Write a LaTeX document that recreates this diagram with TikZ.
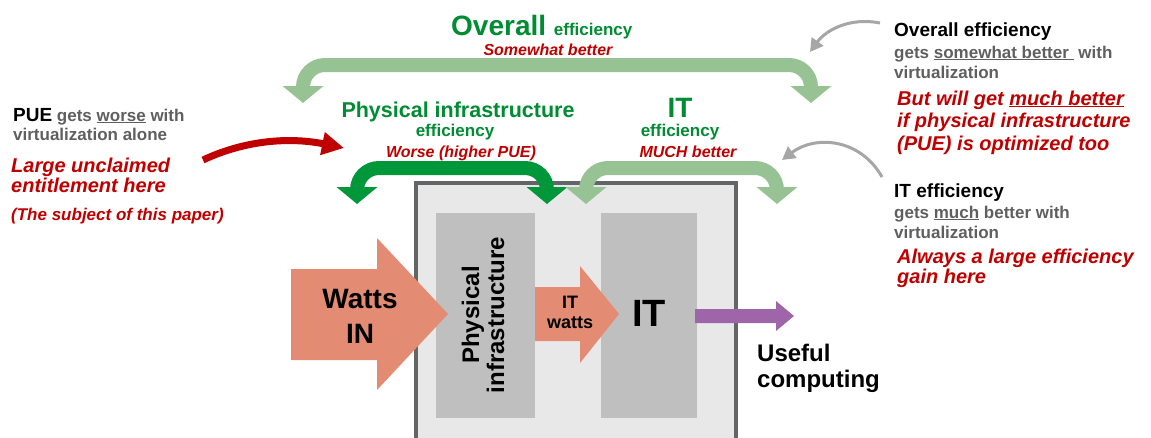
\documentclass[tikz,border=0pt]{standalone}
\usepackage{fontspec}
\setmainfont{Liberation Sans}
\usetikzlibrary{arrows.meta}

\definecolor{lightgreen}{RGB}{151,195,148}
\definecolor{darkgreen}{RGB}{0,150,58}
\definecolor{textgreen}{RGB}{0,140,50}
\definecolor{darkred}{RGB}{192,0,0}
\definecolor{textgray}{RGB}{95,95,95}
\definecolor{salmon}{RGB}{227,140,115}
\definecolor{violet}{RGB}{158,102,168}
\definecolor{boxfill}{RGB}{232,232,232}
\definecolor{boxedge}{RGB}{100,101,105}
\definecolor{blockfill}{RGB}{191,191,191}
\definecolor{pointer}{RGB}{166,166,166}

\newcommand{\fsz}[2]{\fontsize{#1}{#2}\selectfont}

\tikzset{
  effarrow/.style={line width=14pt, rounded corners=22pt,
    {Triangle[width=40pt,length=17pt]}-{Triangle[width=40pt,length=17pt]}},
  pointarrow/.style={line width=3pt, pointer, -{Triangle[width=14pt,length=13pt]}},
  heading/.style={anchor=base west, inner sep=0, font=\fsz{19}{22}\bfseries},
  graytext/.style={anchor=base west, inner sep=0, align=left, text=textgray, font=\fsz{17}{20}\bfseries},
  rednote/.style={anchor=base west, inner sep=0, align=left, text=darkred, font=\fsz{20}{22.5}\bfseries\itshape},
  efflabel/.style={anchor=base, inner sep=0, text=textgreen, font=\fsz{17}{20}\bfseries},
  redlabel/.style={anchor=base, inner sep=0, text=darkred, font=\fsz{16}{19}\bfseries\itshape},
  blocktext/.style={inner sep=0, align=center, font=\bfseries},
}

\begin{document}
\begin{tikzpicture}[x=1pt, y=-1pt]
    \useasboundingbox (0,0) rectangle (1151,437);

    % data center box
    \draw[boxedge, line width=4pt, fill=boxfill] (416,183) rectangle (736,450);
    \fill[blockfill] (436,213) rectangle (535,418);
    \fill[blockfill] (601,213) rectangle (697,418);

    % power flow
    \fill[salmon] (291,269) -- (377,269) -- (377,238) -- (448,314) -- (377,390) -- (377,360) -- (291,360) -- cycle;
    \fill[salmon] (535,287) -- (580,287) -- (580,266) -- (619,314) -- (580,363) -- (580,341) -- (535,341) -- cycle;
    \fill[violet] (695,309) -- (776,309) -- (776,301) -- (794,316) -- (776,331) -- (776,323) -- (695,323) -- cycle;

    \node[blocktext, font=\fsz{28}{35}\bfseries] (wattsin) at (360,316) {Watts\\IN};
    \node[blocktext, font=\fsz{24}{25}\bfseries, rotate=90] (physblock) at (483,315) {Physical\\infrastructure};
    \node[blocktext, font=\fsz{18}{20}\bfseries] (itwatts) at (570,312) {IT\\watts};
    \node[blocktext, font=\fsz{38}{40}\bfseries] (itblock) at (649,313) {IT};
    \node[anchor=base west, inner sep=0, align=left, font=\fsz{24}{26}\bfseries] (useful) at (757,387) {Useful\\computing};

    % efficiency arrows
    \coordinate (ovleft) at (303,103);
    \coordinate (ovright) at (811,103);
    \coordinate (phleft) at (357,204);
    \coordinate (phright) at (547,204);
    \coordinate (itleft) at (586,204);
    \coordinate (itright) at (777,204);
    \draw[effarrow, lightgreen] (ovleft) |- (556,65) -| (ovright);
    \draw[effarrow, darkgreen] (phleft) |- (452,168) -| (phright);
    \draw[effarrow, lightgreen] (itleft) |- (681,168) -| (itright);

    \node[anchor=base west, inner sep=0, text=textgreen] (ovtitle) at (451,35)
        {\fsz{28}{30}\bfseries Overall \fsz{17}{20}efficiency};
    \node[redlabel] (ovbetter) at (548,55) {Somewhat better};
    \node[efflabel, font=\fsz{21.5}{24}\bfseries] (phtitle) at (458,117) {Physical infrastructure};
    \node[efflabel] (pheff) at (455,136) {efficiency};
    \node[redlabel] (phworse) at (461,157) {Worse (higher PUE)};
    \node[efflabel, font=\fsz{28}{30}\bfseries] (ittitle) at (680,117) {IT};
    \node[efflabel] (iteff) at (680,136) {efficiency};
    \node[redlabel] (itbetter) at (688,157) {MUCH better};

    % left notes (base = last line)
    \node[graytext, font=\fsz{17}{19}\bfseries] (puegets) at (13,140)
        {{\fsz{19}{19}\color{black}PUE} gets \underline{worse} with\\virtualization alone};
    \node[rednote, font=\fsz{20}{20}\bfseries\itshape] (puenote) at (11,192) {Large unclaimed\\entitlement here};
    \node[rednote, font=\fsz{17}{20}\bfseries\itshape] (subject) at (11,220) {(The subject of this paper)};

    \coordinate (redtail) at (203,160);
    \coordinate (redtip) at (344,148);
    \draw[darkred, line width=7pt, -{Triangle[width=22pt,length=22pt]}] (redtail) .. controls (250,138) and (295,138) .. (redtip);

    % right notes (base = last line)
    \node[heading] (ovhead) at (894,36) {Overall efficiency};
    \node[graytext] (ovgets) at (894,78) {gets \underline{somewhat better\ } with\\virtualization};
    \node[rednote] (ovnote) at (897,150) {But will get \underline{much better}\\if physical infrastructure\\(PUE) is optimized too};
    \node[heading] (ithead) at (894,197) {IT efficiency};
    \node[graytext] (itgets) at (894,238) {gets \underline{much} better with\\virtualization};
    \node[rednote, font=\fsz{20}{20}\bfseries\itshape] (itnote) at (897,283) {Always a large efficiency\\gain here};

    \coordinate (ovtail) at (880,23);
    \coordinate (ovtip) at (810,52);
    \coordinate (ittail) at (882,177);
    \coordinate (ittip) at (782,160);
    \draw[pointarrow] (ovtail) .. controls (850,17) and (826,30) .. (ovtip);
    \draw[pointarrow] (ittail) .. controls (860,138) and (815,135) .. (ittip);
\end{tikzpicture}
\end{document}
